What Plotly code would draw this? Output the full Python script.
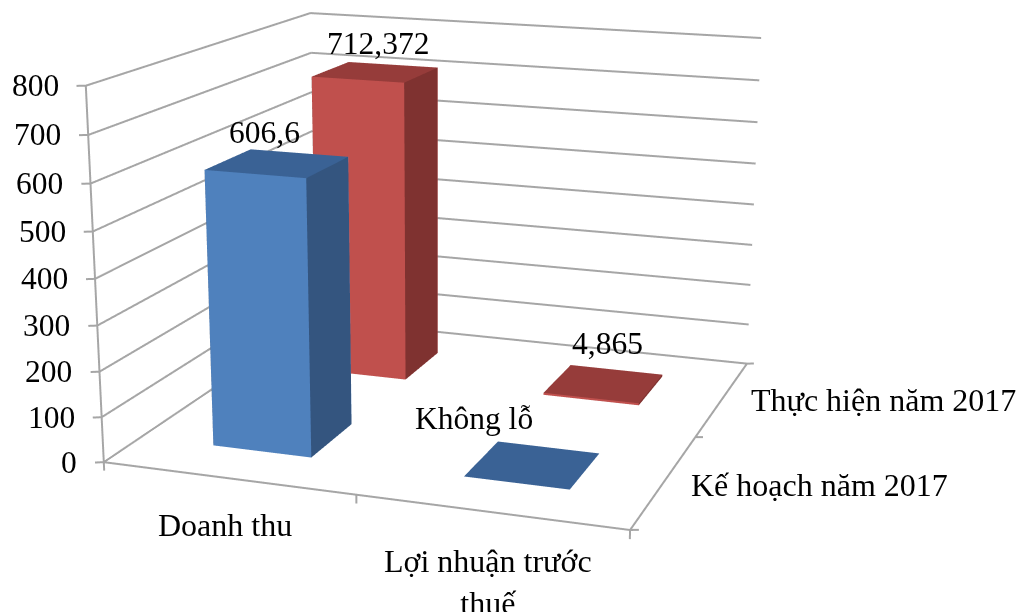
import numpy as np
import plotly.graph_objects as go

categories = ["Doanh thu", "Lợi nhuận trước<br>thuế"]
series = ["Kế hoạch năm 2017", "Thực hiện năm 2017"]
ke_hoach = [606.6, 0]
thuc_hien = [712.372, 4.865]
labels_ke_hoach = ["606,6", "Không lỗ"]
labels_thuc_hien = ["712,372", "4,865"]
z_ticks = [0, 100, 200, 300, 400, 500, 600, 700, 800]

FONT = dict(family="Liberation Serif", size=31.5, color="#000000")
FONT_CAT = dict(family="Liberation Serif", size=32, color="#000000")
GRID = "#a6a6a6"
LW = 4
BLUE = ("#4f81bd", "#3a6295", "#34557f")
RED = ("#c0504d", "#963c3a", "#7f3230")
HW, HD = 0.2, 0.2
XMAX, YMAX, ZMAX = 2, 2, 800


def cuboid(cx, cy, h, cols, name):
    x0, x1, y0, y1 = cx - HW, cx + HW, cy - HD, cy + HD
    xs = [x0, x1, x1, x0, x0, x1, x1, x0]
    ys = [y0, y0, y1, y1, y0, y0, y1, y1]
    zs = [0, 0, 0, 0, h, h, h, h]
    tri = [(0, 1, 5, 0), (0, 5, 4, 0), (4, 5, 6, 1), (4, 6, 7, 1), (1, 2, 6, 2), (1, 6, 5, 2),
           (0, 4, 7, 2), (0, 7, 3, 2), (3, 7, 6, 0), (3, 6, 2, 0), (0, 3, 2, 1), (0, 2, 1, 1)]
    return go.Mesh3d(x=xs, y=ys, z=zs, i=[t[0] for t in tri], j=[t[1] for t in tri], k=[t[2] for t in tri],
                     facecolor=[cols[t[3]] for t in tri], flatshading=True, name=name, hoverinfo="skip",
                     lighting=dict(ambient=1, diffuse=0, specular=0, fresnel=0, roughness=1))


def segments(segs):
    xs, ys, zs = [], [], []
    for (p, q) in segs:
        xs += [p[0], q[0], None]
        ys += [p[1], q[1], None]
        zs += [p[2], q[2], None]
    return go.Scatter3d(x=xs, y=ys, z=zs, mode="lines", line=dict(color=GRID, width=LW), hoverinfo="skip", showlegend=False)


fig = go.Figure()
lines = []
for t in z_ticks:
    lines.append(((0, 0, t), (0, YMAX, t)))          # left wall
    lines.append(((0, YMAX, t), (XMAX, YMAX, t)))    # back wall
    lines.append(((-0.0285, -0.0141, t), (0, 0, t))) # value ticks
lines.append(((0, 0, 0), (0, 0, ZMAX)))
lines.append(((0, 0, 0), (XMAX, 0, 0)))
lines.append(((XMAX, 0, 0), (XMAX, YMAX, 0)))
for v in range(XMAX + 1):
    lines.append(((v, 0, 0), (v, 0, -19)))
    lines.append(((XMAX, v, 0), (XMAX + 0.0278, v + 0.0116, 0)))
fig.add_trace(segments(lines))

for yi, (vals, cols, nm) in reversed(list(enumerate([(ke_hoach, BLUE, series[0]), (thuc_hien, RED, series[1])]))):
    for xi, v in enumerate(vals):
        fig.add_trace(cuboid(xi + 0.5, yi + 0.5, v, cols, nm))

ann = []
for t in z_ticks:
    ann.append(dict(x=0, y=0, z=t, text=str(t), xanchor="right", yanchor="middle", xshift=-25, showarrow=False, font=FONT))
ann += [
    dict(x=0.5, y=0, z=0, text=categories[0], xanchor="center", yanchor="middle", showarrow=False, font=FONT_CAT, xshift=-3, yshift=-47),
    dict(x=1.5, y=0, z=0, text=categories[1], xanchor="center", yanchor="middle", showarrow=False, font=FONT_CAT, xshift=-2, yshift=-70),
    dict(x=XMAX, y=0.5, z=0, text=series[0], xanchor="left", yanchor="middle", showarrow=False, font=FONT_CAT, xshift=24, yshift=-4),
    dict(x=XMAX, y=1.5, z=0, text=series[1], xanchor="left", yanchor="middle", showarrow=False, font=FONT_CAT, xshift=26, yshift=-2),
    dict(x=0.5, y=0.5, z=ke_hoach[0], text=labels_ke_hoach[0], showarrow=False, font=FONT, xshift=-13, yshift=31),
    dict(x=0.5, y=1.5, z=thuc_hien[0], text=labels_thuc_hien[0], showarrow=False, font=FONT, xshift=2, yshift=29),
    dict(x=1.5, y=0.5, z=ke_hoach[1], text=labels_ke_hoach[1], showarrow=False, font=FONT, xshift=-59, yshift=46),
    dict(x=1.5, y=1.5, z=thuc_hien[1], text=labels_thuc_hien[1], showarrow=False, font=FONT, xshift=4, yshift=40),
]

H_FIG = 1696
PX, PY, PZ = 0.1, 0.1, 40   # symmetric room around the box so ticks are not clipped
hidden = dict(visible=False, showspikes=False)
fig.update_layout(
    width=1016, height=H_FIG, margin=dict(l=0, r=0, t=0, b=0, pad=0), paper_bgcolor="white", showlegend=False,
    scene=dict(
        domain=dict(x=[0, 1], y=[0, 1]), bgcolor="white",
        xaxis=dict(range=[-PX, XMAX + PX], **hidden),
        yaxis=dict(range=[-PY, YMAX + PY], **hidden),
        zaxis=dict(range=[-PZ, ZMAX + PZ], **hidden),
        aspectmode="manual",
        aspectratio=dict(x=1.4296 * (XMAX + 2 * PX) / XMAX, y=1.4194 * (YMAX + 2 * PY) / YMAX, z=(ZMAX + 2 * PZ) / ZMAX),
        camera=dict(eye=dict(x=1.8367, y=-5.2128, z=1.3867), center=dict(x=0.3606, y=-0.5926, z=0), up=dict(x=-0.0374, y=0.0855, z=1)),
        annotations=ann,
    ),
)
fig.write_html("out.html", post_script="document.body.style.margin='0';document.documentElement.style.overflow='hidden';var d=document.querySelector('.plotly-graph-div');d.style.position='absolute';d.style.left='0';d.style.top='-542px';")
